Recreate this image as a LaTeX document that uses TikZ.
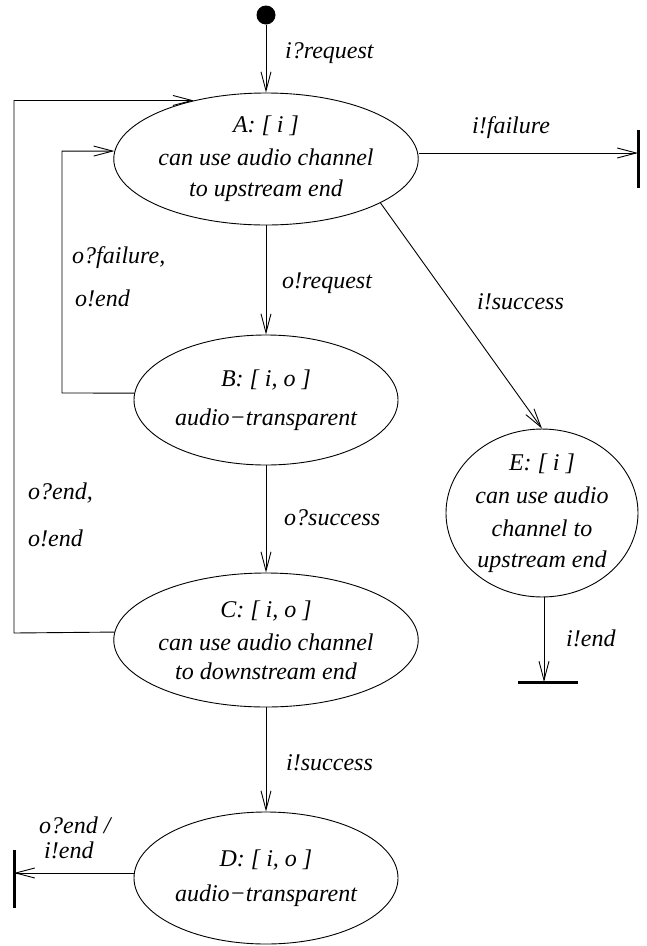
\documentclass[tikz,border=0pt]{standalone}
\usepackage{fontspec}
\setmainfont{Liberation Serif}
\usetikzlibrary{arrows.meta,shapes.geometric}
\begin{document}
\begin{tikzpicture}[x=1pt,y=-1pt,
  every node/.style={font=\fontsize{24}{33}\selectfont\itshape},
  state/.style={ellipse,draw,line width=0.9pt,minimum width=264pt,minimum height=132pt,inner sep=0pt,align=center},
  arr/.style={line width=0.9pt,-{Straight Barb[length=19pt,width=10pt,line width=0.9pt]}},
  bar/.style={line width=3pt},
  lbl/.style={anchor=west,inner sep=0pt}]
\useasboundingbox (0,0) rectangle (647,946);
% states
\node[state] (A) at (266,159) {A: [ i ]\\[0pt]can use audio channel\\[-2pt]to upstream end};
\node[state,minimum height=130pt] (B) at (266,400) {B: [ i, o ]\\[6pt]audio−transparent};
\node[state,minimum height=134pt] (C) at (266,640) {C: [ i, o ]\\[0pt]can use audio channel\\[-4pt]to downstream end};
\node[state] (D) at (266,878) {D: [ i, o ]\\[2pt]audio−transparent};
\node[ellipse,draw,line width=0.9pt,minimum width=192pt,minimum height=166pt,inner sep=0pt,align=center] (E) at (542,513) {E: [ i ]\\[0pt]can use audio\\[0pt]channel to\\[-2pt]upstream end};
% initial
\node[circle,fill,inner sep=0pt,minimum size=19pt] (init) at (266,15) {};
% terminal ends
\coordinate (fT) at (638,153);
\coordinate (eT) at (544,682);
\coordinate (dT) at (14,873);
\draw[bar] (638,130) -- (638,188);
\draw[bar] (518,682) -- (578,682);
\draw[bar] (14,850) -- (14,908);
% transitions
\draw[arr] (init) -- (A.north);
\draw[arr] (A.south) -- (B.north);
\draw[arr] (B.south) -- (C.north);
\draw[arr] (C.south) -- (D.north);
\draw[arr] (A.east |- fT) -- (fT);
\draw[arr] (A.-21) -- (E.north);
\draw[arr] (E.south -| eT) -- (eT);
\draw[arr] (D.west |- dT) -- (dT);
\draw[arr] (B.177) -- (62,393) |- (A.177.4);
\draw[arr] (C.177) -- (14,633) |- (A.141.3);
% labels
\node[lbl] (l1) at (285,53) {i?request};
\node[lbl] (l2) at (472,128) {i!failure};
\node[lbl] (l3) at (282,283) {o!request};
\node[lbl] (l4) at (72,258) {o?failure,};
\node[lbl] (l5) at (75,298) {o!end};
\node[lbl] (l6) at (477,302) {i!success};
\node[lbl] (l7) at (284,518) {o?success};
\node[lbl] (l8) at (28,493) {o?end,};
\node[lbl] (l9) at (28,538) {o!end};
\node[lbl] (l10) at (566,638) {i!end};
\node[lbl] (l11) at (286,763) {i!success};
\node[lbl] (l12) at (39,825) {o?end /};
\node[lbl] (l13) at (44,850) {i!end};
\end{tikzpicture}
\end{document}
